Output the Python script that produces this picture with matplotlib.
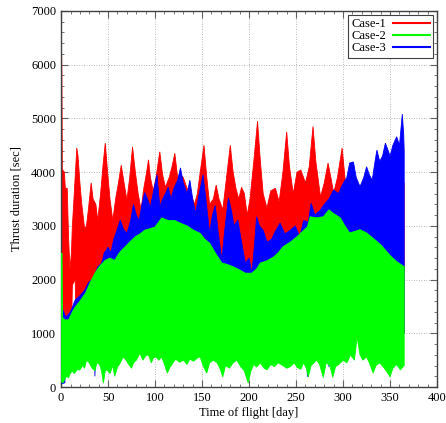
import numpy as np
import matplotlib
matplotlib.use("Agg")
import matplotlib.pyplot as plt
from matplotlib.lines import Line2D

plt.rcParams['font.family'] = ['Liberation Serif', 'DejaVu Serif']

labels = ["Case-1", "Case-2", "Case-3"]
colors = ["#ff0000", "#00ff00", "#0000ff"]

# Case-1 (red): upper envelope
red_up_day = [0.3, 0.8, 1.3, 3.5, 4.5, 6.5, 8, 9.5, 11, 12, 14, 16.7, 18, 20, 22, 25, 27, 29, 32, 34, 37, 39,
              42, 45, 47, 49, 52, 55, 58, 61, 64, 67, 70, 73, 76, 79, 82, 85, 88, 91, 93, 95, 98, 101, 105,
              108, 111, 115, 118, 121, 124, 127, 130, 134, 138, 142, 145, 148, 152, 155, 158, 162, 165, 168,
              172, 176, 180, 183, 186, 189, 192, 195, 198, 201, 205, 209, 212, 215, 219, 223, 228, 232, 236,
              240, 243, 247, 251, 255, 260, 264, 268, 271, 276, 280, 284, 287, 290, 294, 299, 302, 305, 310,
              315, 320, 330, 340, 350, 360, 365]
red_up = [6550, 5900, 4050, 4000, 3700, 3700, 2750, 2200, 2500, 3000, 3600, 4450, 4300, 3800, 3400, 2950, 3000,
          3300, 3800, 3500, 3400, 3100, 3600, 4200, 4540, 4100, 3500, 3100, 3500, 3800, 4130, 3800, 3480, 3900,
          4470, 4000, 3600, 3300, 3700, 4000, 4230, 3900, 3650, 3900, 4380, 3950, 3720, 3900, 4100, 4350, 3900,
          3950, 3900, 3700, 3600, 3400, 3600, 4000, 4500, 3900, 3400, 3500, 3760, 3500, 3300, 3900, 4500, 4000,
          3700, 3500, 3720, 3600, 3200, 3500, 4200, 4950, 4200, 3600, 3330, 3650, 3700, 3450, 4000, 4750, 4100,
          3600, 4000, 4040, 3800, 4100, 4850, 4200, 3540, 3800, 4170, 3900, 3610, 3900, 4450, 3900, 3480, 3600,
          3700, 3600, 3500, 3600, 3700, 3800, 3800]
# Case-1 (red): lower envelope
red_lo_day = [0.3, 11, 12, 15, 16, 365]
red_lo = [1000, 1000, 1900, 2000, 1000, 1000]

# Case-3 (blue): upper envelope
blue_up_day = [0.3, 5, 10, 15, 20, 25, 29, 33, 36, 39, 43, 46, 50, 53, 56, 60, 63, 66, 70, 74, 77, 80, 83, 86,
               89, 92, 95, 99, 102, 105, 108, 111, 114, 117, 120, 124, 127, 130, 134, 137, 140, 143, 147, 151,
               154, 158, 161, 164, 167, 171, 174, 178, 181, 184, 188, 192, 196, 200, 203, 206, 208, 211, 215,
               219, 224, 228, 233, 238, 244, 249, 254, 258, 263, 266, 270, 276, 280, 285, 290, 295, 300, 304,
               307, 311, 314, 318, 322, 325, 328, 331, 334, 336, 339, 342, 345, 348, 350, 353, 357, 360, 363,
               364.5, 365]
blue_up = [1500, 1300, 1400, 1620, 1700, 1800, 1940, 2000, 2100, 2240, 2300, 2500, 2600, 2500, 2750, 2950, 3110,
           2950, 2860, 3100, 3400, 3200, 3100, 3400, 3620, 3500, 3350, 3700, 3950, 3360, 3500, 3600, 3720, 3500,
           3700, 3850, 4080, 3800, 3600, 3850, 3500, 3240, 3600, 3950, 3500, 2870, 3200, 3380, 2900, 2370, 2900,
           3520, 3300, 3000, 3110, 2700, 2310, 2400, 2120, 2700, 3170, 3000, 2920, 2700, 2750, 2900, 3050, 2850,
           2920, 3000, 2800, 3100, 3070, 3420, 3200, 3300, 3400, 3500, 3670, 3600, 3790, 3900, 4170, 4190, 3900,
           3730, 3900, 4100, 3950, 3850, 4200, 4410, 4200, 4300, 4540, 4400, 4300, 4500, 4660, 4500, 5080, 4700,
           4400]
# Case-3 (blue): lower envelope
blue_lo_day = [0.3, 1, 4, 6, 24, 25, 26, 35, 36, 37, 49, 50, 51, 136, 137, 138, 150, 151, 152, 261, 262, 263,
               284, 285, 286, 365]
blue_lo = [600, 60, 80, 1000, 1000, 500, 1000, 1000, 200, 1000, 1000, 350, 1000, 1000, 700, 1000, 1000, 600,
           1000, 1000, 190, 1000, 1000, 370, 1000, 1000]

# Case-2 (green): upper envelope
green_up_day = [0.3, 1, 1.5, 4, 8, 12, 15, 20, 26, 31, 36, 41, 47, 52, 57, 62, 68, 73, 79, 84, 89, 95, 100,
                107, 114, 121, 127, 134, 141, 148, 153, 158, 164, 171, 177, 183, 190, 196, 203, 208, 212, 219,
                226, 231, 236, 244, 251, 257, 262, 265, 272, 279, 285, 289, 297, 302, 307, 313, 318, 325, 334,
                340, 345, 350, 356, 360, 365]
green_up = [2490, 2490, 1300, 1250, 1250, 1400, 1490, 1600, 1750, 1950, 2120, 2250, 2360, 2400, 2360, 2500,
            2610, 2700, 2800, 2850, 2920, 2950, 2980, 3150, 3100, 3100, 3050, 3000, 2920, 2860, 2750, 2680, 2500,
            2310, 2280, 2240, 2180, 2120, 2120, 2200, 2310, 2350, 2420, 2500, 2610, 2700, 2800, 2900, 2980, 3170,
            3150, 3170, 3300, 3240, 3150, 3000, 2870, 2900, 2930, 2870, 2740, 2650, 2550, 2450, 2350, 2300, 2240]
# Case-2 (green): lower envelope
green_lo_day = [0.3, 2, 4, 6, 8, 10, 12, 14, 17, 20, 23, 25, 27, 30, 33, 36, 38, 41, 43, 45, 47, 49, 52, 55,
                57, 60, 63, 66, 69, 72, 75, 77, 80, 84, 87, 90, 93, 96, 98, 101, 104, 107, 110, 113, 116, 119,
                122, 126, 130, 134, 137, 141, 145, 148, 151, 155, 158, 162, 166, 169, 172, 175, 179, 183, 187,
                191, 195, 199, 202, 205, 208, 212, 216, 219, 223, 227, 231, 236, 240, 244, 248, 251, 255, 258,
                261, 263, 266, 269, 272, 275, 279, 282, 286, 289, 292, 296, 300, 304, 308, 312, 315, 318, 321,
                325, 328, 332, 335, 339, 343, 346, 350, 353, 357, 361, 365]
green_lo = [100, 75, 150, 200, 170, 260, 300, 250, 320, 320, 400, 350, 500, 450, 350, 300, 450, 420, 300, 75,
            300, 320, 250, 400, 200, 370, 450, 560, 500, 420, 350, 450, 500, 630, 500, 580, 600, 450, 540, 560,
            500, 560, 420, 260, 370, 450, 520, 460, 500, 420, 520, 480, 540, 560, 400, 260, 450, 500, 450, 350,
            190, 400, 350, 450, 500, 380, 300, 75, 300, 420, 370, 450, 350, 320, 420, 380, 450, 400, 350, 380,
            450, 370, 330, 450, 350, 190, 400, 450, 500, 420, 180, 450, 400, 180, 380, 430, 500, 450, 600, 500,
            930, 600, 500, 560, 450, 260, 400, 450, 370, 300, 190, 350, 420, 320, 400]

fig = plt.figure(figsize=(4.46, 4.23), dpi=100)
ax = fig.add_axes([0.137, 0.085, 0.843, 0.889])


def band(up_d, up_v, lo_d, lo_v, color, z):
    xs = np.concatenate([up_d, lo_d[::-1]])
    ys = np.concatenate([up_v, lo_v[::-1]])
    ax.fill(xs, ys, color=color, lw=0.6, ec=color, zorder=z)


band(red_up_day, red_up, red_lo_day, red_lo, colors[0], 2)
band(blue_up_day, blue_up, blue_lo_day, blue_lo, colors[2], 3)
band(green_up_day, green_up, green_lo_day, green_lo, colors[1], 4)

ax.set_xlim(0, 400)
ax.set_ylim(0, 7000)
ax.set_xticks(np.arange(0, 401, 50))
ax.set_yticks(np.arange(0, 7001, 1000))
ax.set_xticks(np.arange(0, 401, 10), minor=True)
ax.set_yticks(np.arange(0, 7001, 200), minor=True)
ax.tick_params(which='both', direction='in', top=True, right=True, color='#606060', labelsize=9)
ax.tick_params(which='major', length=5, width=0.8)
ax.tick_params(which='minor', length=2.5, width=0.6)
ax.grid(True, which='major', ls=(0, (1, 2)), color='#a0a0a0', lw=0.6)
ax.set_axisbelow(True)
for s in ax.spines.values():
    s.set_color('#404040')
    s.set_linewidth(1.0)

ax.set_xlabel("Time of flight [day]", fontsize=9, labelpad=2)
ax.set_ylabel("Thrust duration [sec]", fontsize=9, labelpad=6)

handles = [Line2D([], [], color=colors[i], lw=1.5) for i in range(3)]
leg = ax.legend(handles, labels, loc='upper right', fontsize=9, markerfirst=False, handlelength=2.9,
                labelspacing=0.0, borderpad=0.25, borderaxespad=0.35, handletextpad=0.6, fancybox=False,
                framealpha=1)
leg.get_frame().set_edgecolor('#404040')
leg.get_frame().set_linewidth(0.8)
leg.set_zorder(10)

fig.savefig("out.png", dpi=100)
